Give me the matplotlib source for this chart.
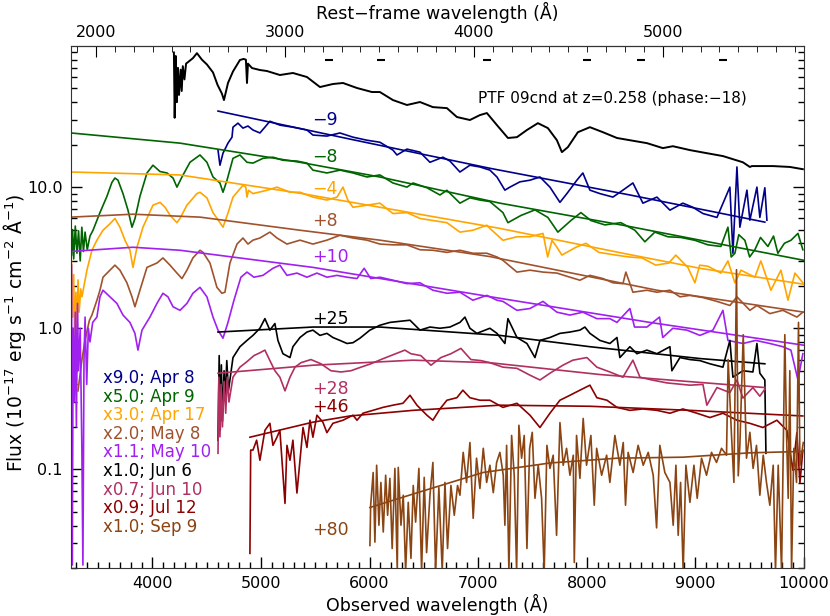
import matplotlib
matplotlib.use("Agg")
import matplotlib.pyplot as plt
import matplotlib.ticker as tik
import numpy as np

#### data: (observed wavelength [A], flux)
spec_ref = [(4198, 90), (4205, 31), (4215, 85), (4225, 40), (4235, 70), (4245, 45), (4260, 68),
            (4270, 48), (4280, 72), (4295, 58), (4310, 75), (4373, 82), (4410, 89), (4456, 80),
            (4502, 74), (4558, 65), (4600, 53), (4640, 46), (4659, 41.4), (4696, 54.7), (4742, 66),
            (4806, 79.6), (4840, 81), (4861, 80), (4871, 54.7), (4880, 75), (4917, 69.8), (4990, 67.6),
            (5055, 66.5), (5174, 62.3), (5294, 64.4), (5423, 60.3), (5543, 51.2), (5662, 53.8),
            (5755, 54.7), (5884, 50.4), (6022, 47.2), (6095, 47.2), (6215, 41.4), (6344, 38.2),
            (6464, 40.1), (6583, 36.9), (6712, 36.3), (6804, 31.4), (6924, 29.9), (7016, 32.4),
            (7080, 33.5), (7173, 27.5), (7274, 22.3), (7357, 22.6), (7449, 25.4), (7550, 28.4),
            (7642, 26.2), (7725, 21.5), (7771, 17.7), (7826, 19.2), (7918, 24.5), (8029, 26.6),
            (8149, 24.5), (8278, 22.3), (8397, 21.5), (8554, 20.5), (8701, 18.9), (8793, 19.5),
            (8950, 18.3), (9106, 17.4), (9254, 16.6), (9438, 15.0), (9502, 13.9), (9521, 14.1),
            (9567, 14.1), (9714, 14.1), (9871, 13.9), (9990, 13.4)]

spec_apr8 = [(4604, 18.3), (4622, 14.3), (4650, 17.4), (4696, 20.5), (4733, 22.6), (4742, 26.6),
             (4788, 28.4), (4834, 26.2), (4880, 27.1), (4926, 25.4), (4990, 24.2), (5036, 26.6),
             (5082, 29.3), (5174, 27.5), (5294, 26.6), (5423, 25.4), (5478, 23.4), (5607, 23.0),
             (5727, 24.2), (5847, 22.6), (5976, 21.5), (6095, 20.8), (6215, 18.3), (6252, 16.9),
             (6344, 18.6), (6464, 17.7), (6556, 15.0), (6675, 16.3), (6740, 15.3), (6832, 12.8),
             (6924, 14.3), (7016, 13.9), (7108, 13.2), (7173, 11.8), (7246, 9.52), (7292, 10.0),
             (7384, 10.9), (7477, 11.2), (7569, 11.8), (7661, 10.0), (7753, 7.8), (7817, 9.0),
             (7909, 11.2), (7964, 12.6), (8029, 9.52), (8121, 9.0), (8241, 8.5), (8333, 9.52),
             (8425, 10.7), (8517, 7.7), (8646, 8.5), (8766, 6.87), (8885, 7.7), (8977, 7.2),
             (9070, 6.5), (9199, 6.1), (9318, 10.0), (9346, 3.4), (9383, 13.9), (9410, 5.2),
             (9475, 9.52), (9502, 5.83), (9567, 10.0), (9594, 6.1), (9640, 9.9), (9659, 5.83)]

spec_apr9 = [(3255, 3.3), (3265, 5.0), (3275, 3.1), (3290, 5.3), (3305, 3.4), (3320, 4.9), (3335, 3.0),
             (3350, 5.2), (3365, 3.5), (3380, 4.8), (3400, 3.6), (3425, 4.5), (3453, 4.95), (3517, 6.6),
             (3581, 8.6), (3627, 10.8), (3655, 11.6), (3683, 11.2), (3729, 9.0), (3775, 6.87),
             (3812, 5.2), (3840, 6.0), (3885, 8.6), (3950, 12.6), (4005, 14.3), (4070, 12.9),
             (4134, 12.6), (4190, 11.6), (4226, 10.0), (4272, 11.8), (4346, 15.0), (4438, 16.9),
             (4502, 15.0), (4558, 11.8), (4622, 10.7), (4650, 9.2), (4687, 11.2), (4742, 16.0),
             (4806, 16.9), (4871, 15.0), (4926, 14.8), (5018, 16.0), (5110, 16.3), (5202, 15.5),
             (5331, 15.3), (5423, 14.8), (5478, 13.2), (5607, 12.6), (5727, 13.2), (5847, 12.6),
             (5976, 11.8), (6095, 12.2), (6215, 10.7), (6344, 10.0), (6400, 10.7), (6528, 9.9),
             (6648, 8.8), (6712, 9.5), (6832, 7.7), (6924, 8.4), (7016, 8.1), (7108, 7.9),
             (7228, 6.6), (7274, 5.6), (7394, 6.3), (7523, 6.9), (7642, 6.1), (7734, 4.8),
             (7854, 5.8), (7946, 6.6), (8038, 5.8), (8167, 5.4), (8314, 5.6), (8443, 4.95),
             (8535, 4.1), (8627, 4.8), (8747, 4.45), (8867, 4.4), (8996, 4.2), (9116, 3.9),
             (9235, 3.8), (9300, 5.2), (9330, 3.2), (9364, 3.4), (9400, 4.6), (9456, 4.2),
             (9500, 3.2), (9548, 3.6), (9600, 4.4), (9668, 3.8), (9720, 4.5), (9760, 3.4),
             (9820, 4.0), (9880, 4.2), (9945, 4.7), (9990, 3.6)]

spec_apr17 = [(3255, 3.0), (3265, 1.2), (3275, 2.4), (3285, 0.7), (3295, 1.8), (3305, 0.9), (3315, 2.2),
              (3325, 1.3), (3340, 1.9), (3351, 1.67), (3397, 2.58), (3443, 3.57), (3489, 4.21),
              (3545, 4.95), (3609, 5.5), (3655, 6.0), (3701, 5.2), (3747, 4.21), (3793, 3.57),
              (3821, 2.7), (3858, 3.75), (3913, 5.2), (4005, 7.45), (4070, 7.8), (4116, 7.2),
              (4162, 6.33), (4226, 5.6), (4254, 6.0), (4318, 7.45), (4410, 9.0), (4438, 9.2),
              (4502, 8.4), (4558, 6.6), (4622, 5.6), (4650, 5.2), (4696, 6.55), (4742, 8.5),
              (4834, 10.3), (4860, 10.0), (4871, 8.5), (4885, 9.5), (4926, 9.0), (5055, 9.5),
              (5147, 10.0), (5267, 9.2), (5359, 9.2), (5478, 8.5), (5607, 8.1), (5700, 8.5),
              (5755, 10.0), (5800, 8.1), (5847, 7.2), (5976, 7.45), (6095, 7.7), (6215, 6.5),
              (6344, 6.6), (6464, 6.0), (6583, 5.8), (6712, 5.6), (6832, 4.8), (6951, 4.95),
              (7080, 5.37), (7108, 5.1), (7228, 4.2), (7357, 4.45), (7477, 4.45), (7597, 4.7),
              (7640, 3.2), (7680, 4.2), (7725, 3.75), (7771, 3.3), (7900, 3.75), (7992, 4.0),
              (8111, 3.45), (8268, 3.3), (8388, 3.2), (8508, 3.15), (8636, 2.8), (8756, 2.9),
              (8820, 3.3), (8931, 2.7), (8996, 2.1), (9040, 2.8), (9116, 2.75), (9235, 2.46),
              (9300, 3.0), (9364, 2.1), (9420, 2.58), (9548, 2.3), (9603, 3.0), (9696, 1.86),
              (9788, 2.58), (9853, 1.58), (9917, 2.46), (9990, 2.1)]

spec_may8 = [(3315, 0.36), (3350, 0.59), (3379, 0.82), (3420, 1.14), (3443, 1.24), (3489, 1.58),
             (3517, 1.86), (3545, 2.3), (3609, 2.58), (3655, 2.8), (3701, 2.58), (3765, 2.1),
             (3812, 1.67), (3839, 1.42), (3885, 1.86), (3950, 2.7), (4042, 2.9), (4097, 3.15),
             (4162, 2.8), (4226, 2.46), (4272, 2.25), (4318, 2.58), (4373, 3.15), (4438, 3.57),
             (4466, 3.45), (4530, 2.9), (4594, 1.95), (4640, 1.77), (4668, 1.8), (4714, 2.9),
             (4779, 3.95), (4834, 4.36), (4880, 3.95), (4926, 4.21), (4990, 4.36), (5082, 4.8),
             (5147, 4.36), (5239, 3.95), (5359, 4.21), (5478, 3.95), (5607, 4.21), (5727, 4.56),
             (5847, 4.36), (5976, 4.21), (6095, 3.95), (6215, 3.9), (6344, 3.9), (6464, 3.6),
             (6583, 3.57), (6712, 3.45), (6832, 3.57), (6951, 3.4), (7080, 3.4), (7173, 3.2),
             (7228, 3.03), (7357, 2.5), (7477, 2.58), (7597, 2.5), (7725, 2.46), (7845, 2.3),
             (7937, 2.19), (8029, 2.37), (8149, 2.25), (8241, 2.1), (8333, 2.07), (8360, 2.5),
             (8425, 1.8), (8554, 1.86), (8646, 1.8), (8766, 1.86), (8858, 1.67), (8950, 1.71),
             (9070, 1.65), (9199, 1.55), (9318, 1.45), (9383, 1.67), (9502, 1.34), (9567, 1.45),
             (9686, 1.27), (9806, 1.34), (9935, 1.2), (9990, 1.3)]

spec_may10 = [(3255, 2.8), (3262, 0.021), (3270, 1.0), (3280, 0.3), (3290, 1.3), (3300, 0.2),
              (3310, 1.5), (3320, 0.5), (3335, 1.0), (3350, 0.15), (3360, 0.021), (3370, 0.6),
              (3380, 1.2), (3395, 0.4), (3410, 1.0), (3425, 0.8), (3450, 1.1), (3489, 1.2),
              (3517, 1.67), (3545, 1.86), (3609, 1.67), (3673, 1.5), (3729, 1.24), (3793, 1.1),
              (3839, 0.92), (3867, 0.7), (3904, 0.97), (3977, 1.2), (4042, 1.5), (4097, 1.77),
              (4143, 1.67), (4190, 1.42), (4254, 1.34), (4318, 1.5), (4373, 1.77), (4438, 1.95),
              (4502, 1.67), (4558, 1.2), (4604, 0.97), (4650, 0.85), (4696, 1.1), (4751, 1.58),
              (4815, 2.3), (4871, 2.5), (4935, 2.3), (5018, 2.37), (5110, 2.66), (5174, 2.8),
              (5239, 2.37), (5331, 2.46), (5423, 2.3), (5515, 2.46), (5607, 2.3), (5700, 2.37),
              (5792, 2.3), (5884, 2.25), (5950, 2.66), (6010, 2.25), (6095, 2.3), (6215, 2.19),
              (6344, 2.07), (6464, 2.1), (6583, 1.86), (6712, 1.77), (6832, 1.8), (6951, 1.58),
              (7080, 1.71), (7173, 1.58), (7228, 1.55), (7357, 1.34), (7477, 1.38), (7597, 1.55),
              (7725, 1.3), (7845, 1.24), (7964, 1.3), (8093, 1.17), (8213, 1.17), (8278, 1.1),
              (8397, 1.38), (8440, 1.02), (8554, 1.02), (8670, 1.2), (8700, 0.86), (8793, 1.0),
              (8922, 0.97), (9042, 0.89), (9162, 0.97), (9254, 1.34), (9300, 0.82), (9438, 0.78),
              (9557, 0.82), (9686, 0.78), (9806, 0.74), (9880, 0.7), (9945, 0.43), (9990, 0.66)]

spec_jun6 = [(4604, 0.161), (4615, 0.64), (4625, 0.19), (4635, 0.55), (4645, 0.22), (4660, 0.5),
             (4670, 0.31), (4685, 0.59), (4700, 0.36), (4742, 0.62), (4806, 0.74), (4871, 0.82),
             (4926, 0.89), (4990, 1.0), (5036, 1.17), (5082, 0.97), (5128, 1.08), (5156, 0.82),
             (5202, 0.66), (5267, 0.62), (5294, 0.74), (5359, 0.86), (5423, 0.94), (5478, 0.97),
             (5543, 0.89), (5607, 0.92), (5662, 0.86), (5727, 0.82), (5792, 0.78), (5847, 0.79),
             (5911, 0.85), (6003, 0.97), (6095, 1.05), (6187, 1.1), (6279, 1.12), (6372, 1.14),
             (6464, 0.97), (6556, 1.02), (6648, 1.0), (6740, 1.02), (6832, 1.1), (6878, 1.2),
             (6924, 1.0), (6988, 0.92), (7108, 1.0), (7173, 0.92), (7246, 0.78), (7274, 1.17),
             (7357, 0.86), (7449, 0.78), (7523, 0.62), (7569, 0.82), (7661, 0.86), (7753, 0.92),
             (7845, 0.94), (7937, 0.97), (7983, 1.02), (8029, 0.92), (8121, 0.82), (8213, 0.78),
             (8278, 0.86), (8305, 0.62), (8397, 0.74), (8462, 0.66), (8554, 0.7), (8646, 0.66),
             (8766, 0.74), (8784, 0.5), (8858, 0.62), (8950, 0.6), (9042, 0.59), (9134, 0.56),
             (9254, 0.53), (9318, 0.82), (9346, 0.45), (9438, 0.5), (9530, 0.49), (9567, 0.78),
             (9594, 0.48), (9640, 0.43), (9650, 0.13)]

spec_jun10 = [(4604, 0.13), (4612, 0.45), (4622, 0.17), (4632, 0.4), (4645, 0.2), (4660, 0.42),
              (4675, 0.25), (4690, 0.45), (4705, 0.3), (4742, 0.45), (4806, 0.53), (4871, 0.58),
              (4935, 0.64), (4990, 0.67), (5036, 0.7), (5082, 0.59), (5128, 0.5), (5174, 0.45),
              (5221, 0.36), (5267, 0.45), (5313, 0.53), (5368, 0.57), (5460, 0.6), (5552, 0.56),
              (5644, 0.5), (5736, 0.49), (5828, 0.5), (5920, 0.53), (6012, 0.56), (6104, 0.6),
              (6196, 0.64), (6325, 0.7), (6380, 0.66), (6472, 0.64), (6565, 0.547), (6657, 0.62),
              (6749, 0.66), (6841, 0.72), (6933, 0.6), (7025, 0.59), (7108, 0.57), (7228, 0.53),
              (7357, 0.52), (7477, 0.465), (7569, 0.43), (7661, 0.48), (7780, 0.547), (7872, 0.594),
              (8001, 0.62), (8093, 0.53), (8213, 0.49), (8333, 0.45), (8425, 0.594), (8490, 0.45),
              (8600, 0.43), (8738, 0.41), (8950, 0.395), (9070, 0.4), (9106, 0.285), (9199, 0.38),
              (9318, 0.35), (9383, 0.43), (9438, 0.32), (9530, 0.38), (9594, 0.33), (9640, 0.37)]

spec_jul12 = [(4898, 0.0254), (4905, 0.137), (4926, 0.137), (4960, 0.161), (4990, 0.116), (5036, 0.189),
              (5082, 0.212), (5110, 0.148), (5147, 0.169), (5174, 0.189), (5221, 0.0574), (5239, 0.148),
              (5267, 0.116), (5294, 0.161), (5331, 0.068), (5359, 0.116), (5387, 0.198), (5423, 0.143),
              (5451, 0.223), (5478, 0.169), (5515, 0.242), (5570, 0.216), (5607, 0.182), (5662, 0.212),
              (5755, 0.223), (5847, 0.242), (5884, 0.223), (5939, 0.25), (6031, 0.262), (6123, 0.275),
              (6215, 0.285), (6307, 0.294), (6372, 0.335), (6436, 0.285), (6528, 0.242), (6583, 0.223),
              (6648, 0.268), (6712, 0.309), (6804, 0.322), (6859, 0.364), (6924, 0.322), (7016, 0.309),
              (7108, 0.309), (7228, 0.275), (7357, 0.294), (7477, 0.242), (7569, 0.198), (7661, 0.25),
              (7753, 0.309), (7845, 0.335), (7937, 0.364), (8029, 0.395), (8093, 0.322), (8186, 0.309),
              (8278, 0.275), (8397, 0.262), (8517, 0.268), (8646, 0.262), (8766, 0.25), (8885, 0.268),
              (9014, 0.25), (9134, 0.233), (9254, 0.25), (9383, 0.223), (9502, 0.212), (9622, 0.198),
              (9751, 0.223), (9843, 0.189), (9898, 0.0986), (9935, 0.182), (9963, 0.08), (9990, 0.137)]

spec_sep9 = [(6003, 0.0289), (6010, 0.0557), (6033, 0.095), (6049, 0.0305), (6065, 0.107), (6086, 0.0402),
             (6104, 0.0808), (6126, 0.036), (6148, 0.0909), (6166, 0.0473), (6187, 0.0864), (6208, 0.0275),
             (6233, 0.1016), (6255, 0.019), (6264, 0.1033), (6289, 0.0402), (6310, 0.0656), (6332, 0.019),
             (6356, 0.0584), (6381, 0.0234), (6402, 0.0769), (6424, 0.0423), (6454, 0.1016), (6479, 0.019),
             (6503, 0.0878), (6525, 0.0257), (6556, 0.0656), (6583, 0.112), (6608, 0.019), (6638, 0.0744),
             (6669, 0.019), (6694, 0.0808), (6718, 0.0275), (6749, 0.0769), (6780, 0.0473), (6810, 0.0769),
             (6832, 0.0656), (6862, 0.132), (6893, 0.0808), (6924, 0.155), (6954, 0.045), (6985, 0.120),
             (7016, 0.0732), (7047, 0.141), (7078, 0.0808), (7108, 0.107), (7139, 0.0684), (7170, 0.112),
             (7200, 0.132), (7231, 0.0909), (7246, 0.0402), (7262, 0.148), (7283, 0.019), (7308, 0.174),
             (7332, 0.0909), (7354, 0.019), (7375, 0.2055), (7400, 0.120), (7424, 0.174), (7449, 0.0275),
             (7474, 0.141), (7498, 0.183), (7523, 0.0624), (7553, 0.107), (7584, 0.0624), (7608, 0.019),
             (7633, 0.148), (7661, 0.1016), (7691, 0.126), (7722, 0.0341), (7753, 0.2145), (7783, 0.107),
             (7814, 0.141), (7845, 0.0909), (7876, 0.126), (7885, 0.0219), (7906, 0.174), (7937, 0.0864),
             (7967, 0.2295), (7998, 0.107), (8038, 0.174), (8069, 0.0557), (8091, 0.141), (8137, 0.0909),
             (8183, 0.126), (8213, 0.0808), (8259, 0.174), (8305, 0.107), (8336, 0.155), (8357, 0.0557),
             (8381, 0.132), (8427, 0.095), (8473, 0.148), (8520, 0.107), (8566, 0.132), (8612, 0.0909),
             (8643, 0.0385), (8673, 0.148), (8719, 0.095), (8766, 0.0808), (8796, 0.0402), (8821, 0.107),
             (8842, 0.0341), (8864, 0.0808), (8888, 0.019), (8913, 0.107), (8950, 0.0584), (8987, 0.107),
             (9017, 0.0624), (9057, 0.120), (9103, 0.0909), (9149, 0.132), (9195, 0.112), (9241, 0.141),
             (9287, 0.126), (9302, 0.6), (9333, 0.174), (9355, 0.0808), (9379, 2.6), (9395, 0.09),
             (9410, 0.148), (9441, 0.9), (9471, 0.120), (9502, 0.183), (9532, 0.1016), (9563, 0.148),
             (9594, 0.0656), (9625, 0.126), (9655, 0.0808), (9686, 0.0557), (9717, 0.107), (9738, 0.019),
             (9763, 0.107), (9794, 0.019), (9824, 0.9), (9840, 0.174), (9855, 0.0624), (9870, 0.5),
             (9886, 0.019), (9907, 0.141), (9932, 0.0808), (9950, 1.1), (9963, 0.107), (9994, 0.155)]

# smooth fits
fit_apr8 = [(4604, 34.6), (5819, 21.9), (7108, 13.6), (8397, 8.8), (9640, 5.65)]
fit_apr9 = [(3250, 24.2), (4254, 20.5), (5359, 15.0), (6095, 11.8), (7200, 7.7), (8333, 5.37), (10000, 3.03)]
fit_apr17 = [(3250, 12.8), (4254, 12.2), (5359, 9.05), (6095, 7.2), (7200, 5.1), (8333, 3.4),
             (9042, 2.66), (10000, 2.05)]
fit_may8 = [(3250, 6.13), (3821, 6.43), (4438, 6.13), (5359, 4.95), (6095, 4.21), (7108, 3.22),
            (8646, 1.86), (10000, 1.30)]
fit_may10 = [(3250, 3.5), (3821, 3.75), (4254, 3.57), (5478, 2.7), (7200, 1.63), (8581, 1.1), (10000, 0.758)]
fit_jun6 = [(4604, 0.94), (5478, 1.02), (6095, 1.02), (7200, 0.89), (8029, 0.74), (9042, 0.61), (9640, 0.56)]
fit_jun10 = [(4604, 0.48), (5478, 0.547), (6400, 0.594), (7108, 0.57), (8121, 0.47), (9640, 0.38)]
fit_jul12 = [(4898, 0.169), (5478, 0.216), (5819, 0.239), (6400, 0.262), (7200, 0.285), (8029, 0.28),
             (8950, 0.262), (9990, 0.239)]
fit_sep9 = [(6003, 0.0537), (6436, 0.0682), (7044, 0.095), (7661, 0.111), (8278, 0.12), (8885, 0.122),
            (9502, 0.131), (9990, 0.134)]

phase_labels = ["\u22129", "\u22128", "\u22124", "+8", "+10", "+25", "+28", "+46", "+80"]
phase_flux = [29.9, 16.3, 9.7, 5.8, 3.2, 1.17, 0.37, 0.275, 0.037]
legend_labels = ["x9.0; Apr 8", "x5.0; Apr 9", "x3.0; Apr 17", "x2.0; May 8", "x1.1; May 10",
                 "x1.0; Jun 6", "x0.7; Jun 10", "x0.9; Jul 12", "x1.0; Sep 9"]
dash_wave = [5626, 6104, 7081, 8001, 8498, 9254]
dash_flux = [80, 80, 80, 80, 80, 80]
rest_ticks = [2000, 3000, 4000, 5000]

spectra = [spec_apr8, spec_apr9, spec_apr17, spec_may8, spec_may10, spec_jun6, spec_jun10, spec_jul12, spec_sep9]
fits = [fit_apr8, fit_apr9, fit_apr17, fit_may8, fit_may10, fit_jun6, fit_jun10, fit_jul12, fit_sep9]
color_list = ["#00008b", "#006400", "#ffa500", "#a0522d", "#a020f0", "#000000", "#b03060", "#8b0000", "#8b4513"]

plt.rcParams['font.family'] = ['DejaVu Sans']

fig = plt.figure(figsize=(8.3, 6.16), dpi=100)
ax = fig.add_axes([0.0855, 0.0779, 0.8831, 0.8474])

wl, fl = np.array(spec_ref).T
ax.plot(wl, fl, color="k", lw=1.4)

for spec, fit, col in zip(spectra, fits, color_list):
    wl, fl = np.array(spec).T
    ax.plot(wl, fl, color=col, lw=1.2)
    wl, fl = np.array(fit).T
    ax.plot(wl, fl, color=col, lw=1.2)

# short dashes along the top
ax.plot(dash_wave, dash_flux, ls="none", marker="_", ms=6, mew=1.5, color="k")

for lab, yv, col in zip(phase_labels, phase_flux, color_list):
    ax.text(5469, yv, lab, color=col, fontsize=12.5, va="center", ha="left")

ax.text(7000, 42.8, "PTF 09cnd at z=0.258 (phase:\u221218)", fontsize=11, va="center", ha="left")

for i, (lab, col) in enumerate(zip(legend_labels, color_list)):
    ax.text(0.044, 0.364 - i * 0.0356, lab, color=col, fontsize=12,
            transform=ax.transAxes, va="center", ha="left")

ax.set_xlim(3250, 10000)
ax.set_yscale("log")
ax.set_ylim(0.02, 100)
ax.xaxis.set_major_locator(tik.MultipleLocator(1000))
ax.xaxis.set_minor_locator(tik.MultipleLocator(100))
ax.set_yticks([0.1, 1, 10])
ax.set_yticklabels(["0.1", "1.0", "10.0"])
ax.yaxis.set_minor_locator(tik.LogLocator(base=10, subs=np.arange(2, 10)))
ax.yaxis.set_minor_formatter(tik.NullFormatter())
ax.tick_params(which="both", direction="in", top=False, right=True, labelsize=11.5)
ax.tick_params(which="major", length=8, width=1)
ax.tick_params(which="minor", length=4, width=1)
ax.tick_params(axis="x", pad=6)
ax.tick_params(axis="y", pad=6)

# rest-frame axis on top
sec = ax.secondary_xaxis("top", functions=(lambda x: x / 1.74, lambda x: x * 1.74))
sec.set_xticks(rest_ticks)
sec.xaxis.set_minor_locator(tik.MultipleLocator(100))
sec.tick_params(which="both", direction="in", labelsize=11.5, pad=4)
sec.tick_params(which="major", length=8)
sec.tick_params(which="minor", length=4)
sec.set_xlabel("Rest\u2212frame wavelength (\u00c5)", fontsize=12.5, labelpad=5)

ax.set_xlabel("Observed wavelength (\u00c5)", fontsize=12.5, labelpad=2)
ax.set_ylabel("Flux (10$^{-17}$ erg s$^{-1}$ cm$^{-2}$ \u00c5$^{-1}$)", fontsize=13.5)
ax.yaxis.set_label_coords(-0.058, 0.45)

for sp in ax.spines.values():
    sp.set_color("#333333")

plt.savefig("out.png", dpi=100)
